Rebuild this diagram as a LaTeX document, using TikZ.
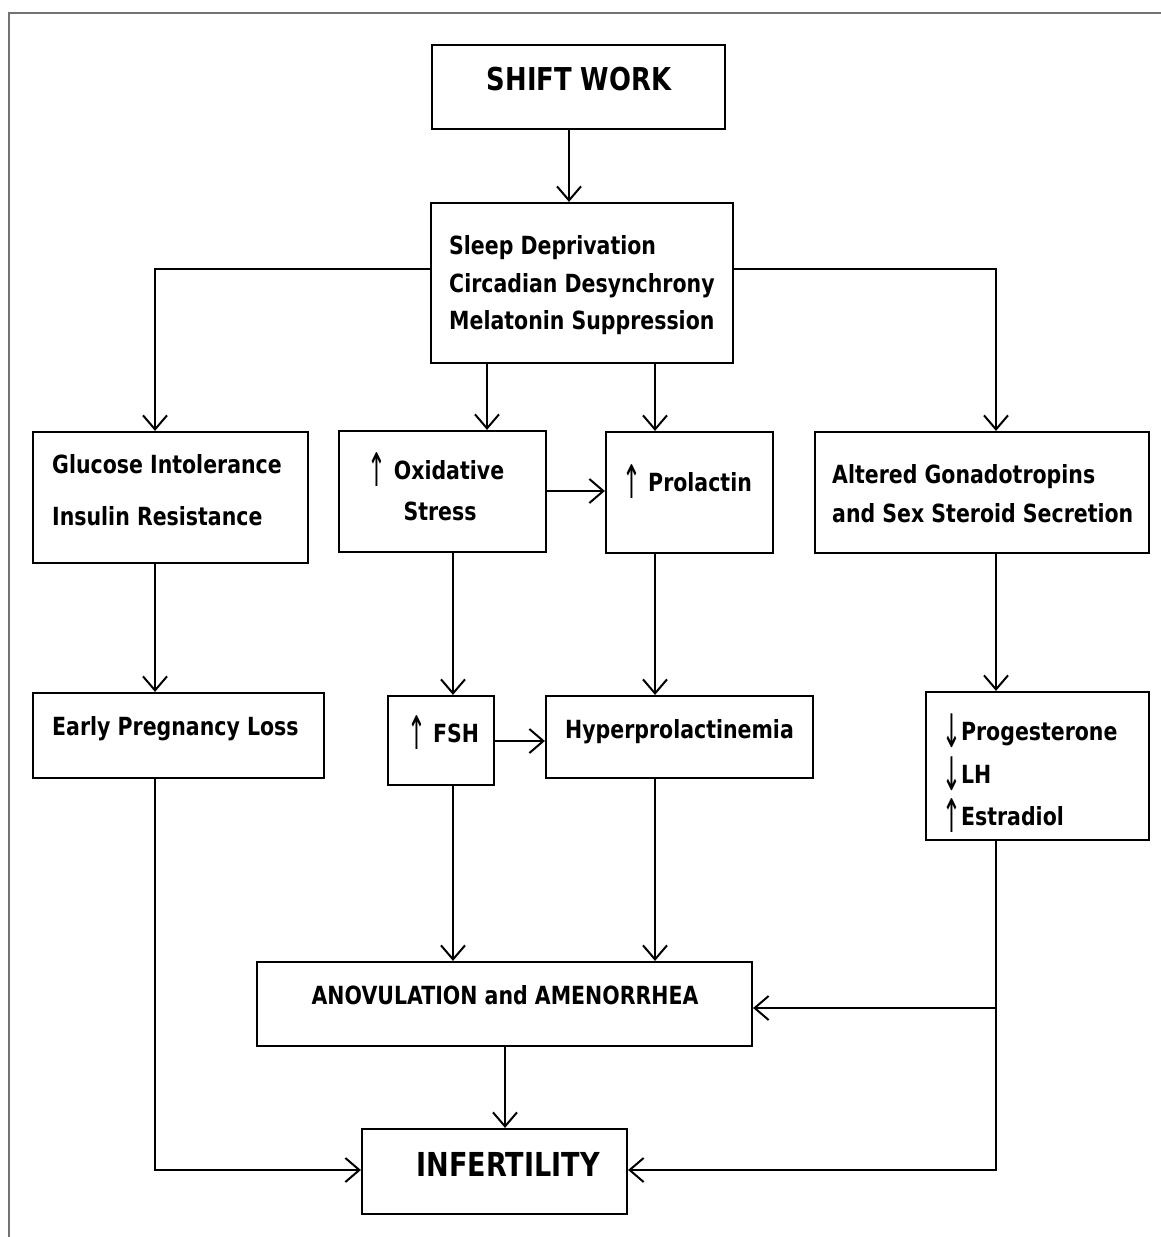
\documentclass[tikz,border=0pt]{standalone}
\usepackage{fontspec}
\usepackage{graphicx}
\setmainfont{DejaVu Sans}[FakeStretch=0.82]
\usetikzlibrary{arrows.meta}
\newcommand{\myup}{\raisebox{-7pt}{\scalebox{1.1}[1.85]{\mdseries ↑}}}
\newcommand{\mydown}{\raisebox{-7pt}{\scalebox{1.1}[1.85]{\mdseries ↓}}}
\begin{document}
\begin{tikzpicture}[x=1pt,y=-1pt,
  box/.style={draw, line width=2.2pt, inner sep=0pt},
  lbl/.style={anchor=base west, inner sep=0pt, font=\bfseries\fontsize{25}{30}\selectfont},
  clbl/.style={lbl, anchor=base},
  conn/.style={line width=2pt, -{Straight Barb[length=14pt,width=24pt,line width=2pt]}},
  frame/.style={draw=black!55, line width=2.5pt}]
\useasboundingbox (0,0) rectangle (1161,1237);
\draw[frame] (9,1240) -- (9,13) -- (1165,13);
% boxes
\node[box, minimum width=293pt, minimum height=84pt] (shift) at (578.5,87) {};
\node[box, minimum width=302pt, minimum height=160pt] (sleep) at (582,283) {};
\node[box, minimum width=275pt, minimum height=131pt] (gluc) at (170.5,497.5) {};
\node[box, minimum width=207pt, minimum height=121pt] (oxid) at (442.5,491.5) {};
\node[box, minimum width=167pt, minimum height=121pt] (prol) at (689.5,492.5) {};
\node[box, minimum width=334pt, minimum height=121pt] (alt) at (982,492.5) {};
\node[box, minimum width=291pt, minimum height=85pt] (early) at (178.5,735.5) {};
\node[box, minimum width=106pt, minimum height=89pt] (fsh) at (441,740.5) {};
\node[box, minimum width=267pt, minimum height=82pt] (hyper) at (679.5,737) {};
\node[box, minimum width=223pt, minimum height=148pt] (prog) at (1037.5,766) {};
\node[box, minimum width=495pt, minimum height=84pt] (anov) at (504.5,1004) {};
\node[box, minimum width=265pt, minimum height=85pt] (inf) at (494.5,1171.5) {};
% texts
\node[clbl, font=\bfseries\fontsize{31.5}{36}\selectfont] (tshift) at (579,90) {SHIFT WORK};
\node[lbl] (ts1) at (449,254) {Sleep Deprivation};
\node[lbl] (ts2) at (449,292) {Circadian Desynchrony};
\node[lbl] (ts3) at (449,329) {Melatonin Suppression};
\node[lbl] (tg1) at (52,473) {Glucose Intolerance};
\node[lbl] (tg2) at (52,525) {Insulin Resistance};
\node[clbl] (to1) at (436,479) {\myup\ Oxidative};
\node[clbl] (to2) at (440,520) {Stress};
\node[lbl] (tp) at (622,491) {\myup\ Prolactin};
\node[lbl] (ta1) at (832,483) {Altered Gonadotropins};
\node[lbl] (ta2) at (832,522) {and Sex Steroid Secretion};
\node[lbl] (te) at (52,735) {Early Pregnancy Loss};
\node[lbl] (tf) at (407,742) {\myup\ FSH};
\node[lbl] (th) at (565,738) {Hyperprolactinemia};
\node[lbl] (tr1) at (942,740) {\mydown Progesterone};
\node[lbl] (tr2) at (942,783) {\mydown LH};
\node[lbl] (tr3) at (942,825) {\myup Estradiol};
\node[clbl] (tan) at (505,1004) {ANOVULATION and AMENORRHEA};
\node[clbl, font=\bfseries\fontsize{33}{38}\selectfont] (tin) at (508,1176) {INFERTILITY};
% connector coordinates
\coordinate (xa) at (155,0);
\coordinate (xb) at (453,0);
\coordinate (xc) at (487,0);
\coordinate (xd) at (505,0);
\coordinate (xe) at (569,0);
\coordinate (xf) at (655,0);
\coordinate (xg) at (996,0);
\coordinate (ya) at (0,269);
\coordinate (yb) at (0,491);
\coordinate (yc) at (0,741);
\coordinate (yd) at (0,1008);
\coordinate (ye) at (0,1170);
% connectors
\draw[conn] (xe |- shift.south) -- (xe |- sleep.north);
\draw[conn] (sleep.west |- ya) -| (xa |- gluc.north);
\draw[conn] (sleep.east |- ya) -| (xg |- alt.north);
\draw[conn] (xc |- sleep.south) -- (xc |- oxid.north);
\draw[conn] (xf |- sleep.south) -- (xf |- prol.north);
\draw[conn] (oxid.east |- yb) -- (prol.west |- yb);
\draw[conn] (xa |- gluc.south) -- (xa |- early.north);
\draw[conn] (xb |- oxid.south) -- (xb |- fsh.north);
\draw[conn] (xf |- prol.south) -- (xf |- hyper.north);
\draw[conn] (xg |- alt.south) -- (xg |- prog.north);
\draw[conn] (fsh.east |- yc) -- (hyper.west |- yc);
\draw[conn] (xb |- fsh.south) -- (xb |- anov.north);
\draw[conn] (xf |- hyper.south) -- (xf |- anov.north);
\draw[conn] (xg |- prog.south) |- (anov.east |- yd);
\draw[conn] (xg |- yd) |- (inf.east |- ye);
\draw[conn] (xa |- early.south) |- (inf.west |- ye);
\draw[conn] (xd |- anov.south) -- (xd |- inf.north);
\end{tikzpicture}
\end{document}
